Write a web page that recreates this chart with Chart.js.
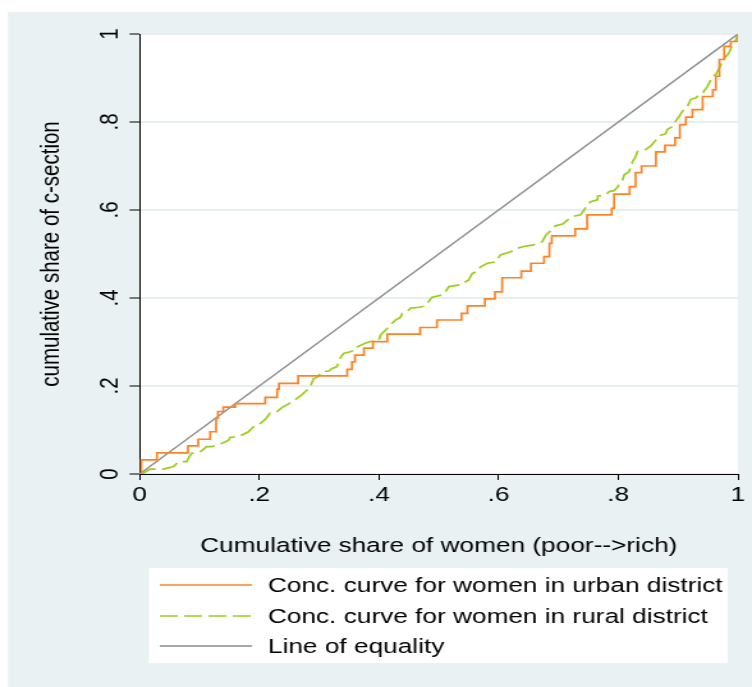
<!DOCTYPE html>
<html>
<head>
<meta charset="utf-8">
<script src="https://cdn.jsdelivr.net/npm/chart.js@4"></script>
<style>
  html, body { margin: 0; padding: 0; background: #fff; overflow: hidden; }
  /* the reference graph is stretched sideways, so draw narrow and stretch */
  #wrap { width: 588px; height: 687px; transform: scaleX(1.2789); transform-origin: 0 0; }
</style>
</head>
<body>
<div id="wrap"><canvas id="chart" width="588" height="687"></canvas></div>
<script>
// concentration curves
const urbanX = [0, 0.003, 0.029, 0.081, 0.098, 0.118, 0.128, 0.131, 0.140, 0.160, 0.210, 0.230, 0.233, 0.265,
  0.347, 0.355, 0.360, 0.375, 0.390, 0.414, 0.469, 0.497, 0.538, 0.548, 0.577, 0.594, 0.606, 0.638, 0.654,
  0.676, 0.685, 0.689, 0.728, 0.748, 0.789, 0.793, 0.819, 0.829, 0.839, 0.863, 0.878, 0.895, 0.903, 0.913,
  0.924, 0.941, 0.958, 0.963, 0.969, 0.977, 0.988, 1.0];
const urbanY = [0, 0.032, 0.048, 0.064, 0.079, 0.096, 0.127, 0.142, 0.152, 0.160, 0.174, 0.193, 0.206, 0.223,
  0.238, 0.255, 0.270, 0.286, 0.301, 0.318, 0.333, 0.350, 0.365, 0.382, 0.398, 0.414, 0.446, 0.461, 0.479,
  0.494, 0.524, 0.541, 0.557, 0.589, 0.604, 0.636, 0.653, 0.685, 0.700, 0.732, 0.747, 0.764, 0.794, 0.811,
  0.828, 0.858, 0.873, 0.904, 0.942, 0.972, 0.983, 1.0];

const ruralX = [0, 0.006, 0.018, 0.040, 0.057, 0.065, 0.079, 0.082, 0.087, 0.096, 0.104, 0.112, 0.121, 0.140,
  0.149, 0.151, 0.165, 0.182, 0.188, 0.193, 0.202, 0.210, 0.218, 0.230, 0.238, 0.246, 0.255, 0.263, 0.271,
  0.280, 0.285, 0.291, 0.297, 0.305, 0.316, 0.322, 0.330, 0.332, 0.337, 0.341, 0.352, 0.361, 0.364, 0.377,
  0.386, 0.400, 0.403, 0.414, 0.419, 0.428, 0.436, 0.439, 0.447, 0.453, 0.467, 0.478, 0.483, 0.489, 0.506,
  0.511, 0.517, 0.536, 0.545, 0.550, 0.556, 0.564, 0.570, 0.581, 0.595, 0.603, 0.620, 0.631, 0.642, 0.656,
  0.667, 0.673, 0.679, 0.687, 0.695, 0.707, 0.715, 0.723, 0.737, 0.743, 0.748, 0.754, 0.765, 0.766, 0.779,
  0.785, 0.793, 0.799, 0.807, 0.810, 0.818, 0.821, 0.824, 0.829, 0.832, 0.843, 0.854, 0.866, 0.871, 0.879,
  0.882, 0.891, 0.896, 0.902, 0.907, 0.916, 0.921, 0.930, 0.935, 0.941, 0.949, 0.958, 0.963, 0.969, 0.974,
  0.980, 0.985, 0.991, 0.997, 1.0];
const ruralY = [0, 0.002, 0.011, 0.011, 0.017, 0.028, 0.028, 0.037, 0.047, 0.048, 0.053, 0.062, 0.062, 0.071,
  0.077, 0.083, 0.085, 0.096, 0.104, 0.111, 0.115, 0.124, 0.138, 0.142, 0.151, 0.157, 0.164, 0.172, 0.180,
  0.191, 0.198, 0.217, 0.220, 0.232, 0.234, 0.240, 0.244, 0.253, 0.267, 0.274, 0.278, 0.282, 0.289, 0.297,
  0.301, 0.305, 0.316, 0.331, 0.339, 0.350, 0.356, 0.365, 0.369, 0.377, 0.379, 0.382, 0.392, 0.402, 0.407,
  0.414, 0.426, 0.430, 0.437, 0.441, 0.456, 0.460, 0.471, 0.479, 0.482, 0.498, 0.505, 0.513, 0.517, 0.520,
  0.524, 0.528, 0.543, 0.553, 0.564, 0.568, 0.577, 0.585, 0.589, 0.600, 0.611, 0.619, 0.623, 0.632, 0.634,
  0.642, 0.644, 0.653, 0.668, 0.680, 0.687, 0.698, 0.710, 0.721, 0.733, 0.735, 0.745, 0.764, 0.770, 0.773,
  0.783, 0.790, 0.802, 0.813, 0.824, 0.836, 0.851, 0.855, 0.862, 0.866, 0.881, 0.904, 0.908, 0.923, 0.938,
  0.949, 0.957, 0.976, 0.988, 1.0];

const equalityX = [0, 1];
const equalityY = [0, 1];

const seriesLabels = [
  'Conc. curve for women in urban district',
  'Conc. curve for women in rural district',
  'Line of equality'
];
const xTickLabels = ['0', '.2', '.4', '.6', '.8', '1'];
const yTickLabels = ['0', '.2', '.4', '.6', '.8', '1'];

const colors = {
  urban: '#fb8424',
  rural: '#9cce1e',
  equality: '#8a8a8a',
  panel: '#e9f1f3',
  grid: '#e6eef1',
  ink: '#000000'
};
const FONT = "'Liberation Sans', Arial, Helvetica, sans-serif";

function toPoints(xs, ys) {
  return xs.map((x, i) => ({ x: x, y: ys[i] }));
}

// light panel behind everything, white plot region
const backdrop = {
  id: 'backdrop',
  beforeDraw(chart) {
    const { ctx, chartArea: a } = chart;
    ctx.save();
    ctx.fillStyle = '#fff';
    ctx.fillRect(0, 0, chart.width, chart.height);
    ctx.fillStyle = colors.panel;
    ctx.fillRect(6.25, 12, chart.width, chart.height);
    ctx.fillStyle = '#fff';
    ctx.fillRect(a.left, a.top, a.right - a.left, a.bottom - a.top);
    ctx.restore();
  }
};

// Stata-style legend box under the axis title
const boxLegend = {
  id: 'boxLegend',
  afterDraw(chart) {
    const { ctx } = chart;
    const rows = [585, 616, 646];
    ctx.save();
    ctx.fillStyle = '#fff';
    ctx.fillRect(116.5, 568, 452.7, 95);
    chart.data.datasets.forEach((ds, i) => {
      const y = rows[i];
      ctx.strokeStyle = ds.borderColor;
      ctx.lineWidth = 1.6;
      ctx.setLineDash(ds.borderDash || []);
      ctx.beginPath();
      ctx.moveTo(125, y);
      ctx.lineTo(197, y);
      ctx.stroke();
      ctx.setLineDash([]);
      ctx.fillStyle = colors.ink;
      ctx.font = '20.5px ' + FONT;
      ctx.textBaseline = 'middle';
      ctx.textAlign = 'left';
      ctx.fillText(ds.label, 209.5, y + 1);
    });
    ctx.restore();
  }
};

new Chart(document.getElementById('chart'), {
  type: 'scatter',
  data: {
    datasets: [
      {
        label: seriesLabels[0],
        data: toPoints(urbanX, urbanY),
        showLine: true,
        stepped: 'before',
        borderColor: colors.urban,
        borderWidth: 1.7,
        pointRadius: 0
      },
      {
        label: seriesLabels[1],
        data: toPoints(ruralX, ruralY),
        showLine: true,
        borderColor: colors.rural,
        borderWidth: 1.7,
        borderDash: [14, 5],
        pointRadius: 0
      },
      {
        label: seriesLabels[2],
        data: toPoints(equalityX, equalityY),
        showLine: true,
        borderColor: colors.equality,
        borderWidth: 1.4,
        pointRadius: 0
      }
    ]
  },
  options: {
    responsive: false,
    animation: false,
    devicePixelRatio: 1,
    layout: { padding: { left: 20, top: 34, right: 11, bottom: 127 } },
    plugins: {
      legend: { display: false },
      tooltip: { enabled: false }
    },
    scales: {
      x: {
        type: 'linear',
        min: 0,
        max: 1,
        afterFit: (scale) => { scale.height = 86; },
        ticks: {
          stepSize: 0.2,
          color: colors.ink,
          font: { family: FONT, size: 20.5 },
          padding: 3,
          maxRotation: 0,
          callback: (v, i) => xTickLabels[i]
        },
        grid: { drawOnChartArea: false, tickColor: colors.ink, tickLength: 6, tickWidth: 1 },
        border: { color: colors.ink, width: 1 },
        title: {
          display: true,
          text: 'Cumulative share of women (poor-->rich)',
          color: colors.ink,
          font: { family: FONT, size: 20.5 },
          padding: { top: 0, bottom: 1.7 }
        }
      },
      y: {
        type: 'linear',
        min: 0,
        max: 1,
        afterFit: (scale) => { scale.width = 89.1; },
        ticks: {
          stepSize: 0.2,
          color: colors.ink,
          font: { family: FONT, size: 20.5 },
          minRotation: 90,
          maxRotation: 90,
          crossAlign: 'center',
          padding: 6.7,
          callback: (v, i) => yTickLabels[i]
        },
        grid: { color: colors.grid, lineWidth: 2, tickColor: colors.ink, tickLength: 7.8, tickWidth: 1 },
        border: { color: colors.ink, width: 1 },
        title: {
          display: true,
          text: 'cumulative share of c-section',
          color: colors.ink,
          font: { family: FONT, size: 20.5 },
          padding: { top: 8.4, bottom: 0 }
        }
      }
    }
  },
  plugins: [backdrop, boxLegend]
});
</script>
</body>
</html>
